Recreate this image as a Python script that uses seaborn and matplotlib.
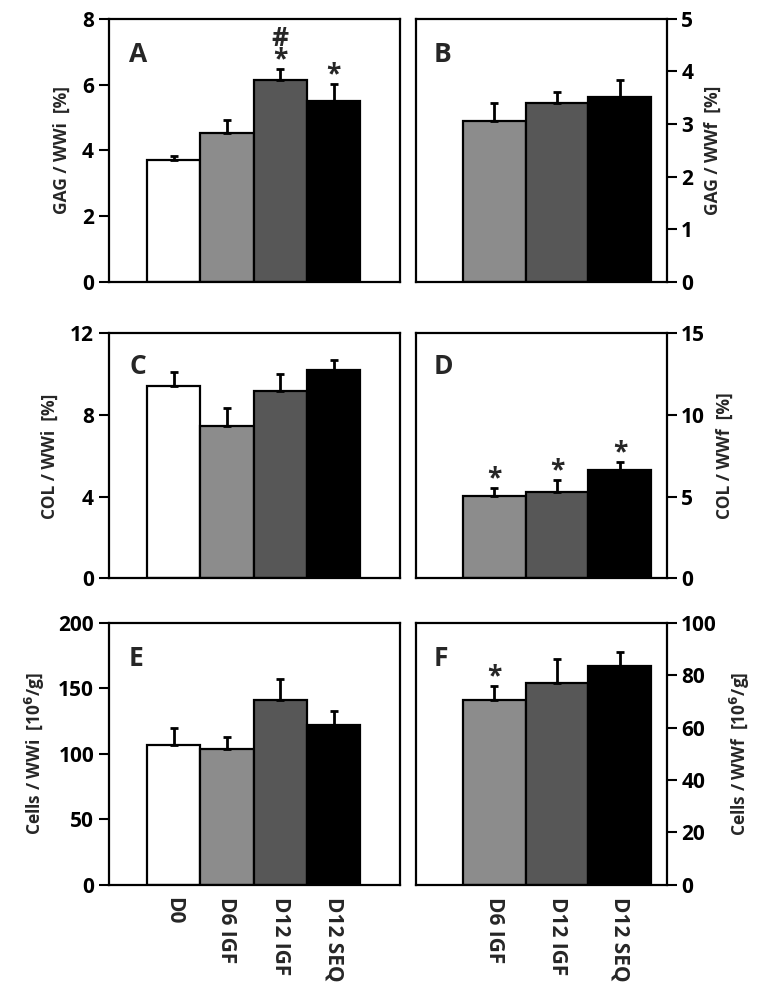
import numpy as np
import pandas as pd
import matplotlib
matplotlib.use("Agg")
import matplotlib.pyplot as plt
import seaborn as sns

# Dados
groups = ["D0", "D6 IGF", "D12 IGF", "D12 SEQ"]
groups_f = ["D6 IGF", "D12 IGF", "D12 SEQ"]
colors = ["#ffffff", "#8c8c8c", "#575757", "#000000"]
colors_f = colors[1:]

gag_wwi = [3.69, 4.52, 6.14, 5.51]
gag_wwi_err = [0.15, 0.40, 0.34, 0.51]
gag_wwf = [3.05, 3.40, 3.51]
gag_wwf_err = [0.34, 0.21, 0.32]

col_wwi = [9.41, 7.46, 9.17, 10.18]
col_wwi_err = [0.68, 0.90, 0.86, 0.52]
col_wwf = [5.04, 5.26, 6.61]
col_wwf_err = [0.51, 0.78, 0.50]

cells_wwi = [107, 104, 141, 122]
cells_wwi_err = [13, 9, 16, 11]
cells_wwf = [70.4, 77.2, 83.6]
cells_wwf_err = [5.4, 8.9, 5.2]

sns.set_theme(style="white")
plt.rcParams["font.family"] = ["Open Sans", "DejaVu Sans"]
plt.rcParams["font.weight"] = "bold"

fig = plt.figure(figsize=(7.76, 9.92), dpi=100)

left_x, left_w = 0.140, 0.375
right_x, right_w = 0.536, 0.323
rows = [(0.716, 0.265), (0.417, 0.247), (0.108, 0.264)]


def painel(pos, cats, vals, errs, cols, ylim, yticks, ylabel, letra, lado,
           marcas=None, rotulos=False):
    ax = fig.add_axes(pos)
    n = len(cats)
    df = pd.DataFrame({"grupo": cats, "valor": vals})
    sns.barplot(data=df, x="grupo", y="valor", hue="grupo", order=cats,
                hue_order=cats, palette=cols, width=1.0, edgecolor="black",
                linewidth=1.6, legend=False, ax=ax)
    ax.errorbar(np.arange(n), vals, yerr=[np.zeros(n), errs], fmt="none",
                ecolor="black", elinewidth=2, capsize=3, capthick=2, zorder=5)

    if n == 4:
        ax.set_xlim(-1.22, 4.24)
    else:
        ax.set_xlim(-1.24, 2.74)
    ax.set_ylim(*ylim)
    ax.set_yticks(yticks)
    ax.set_yticklabels([str(t) for t in yticks], fontsize=15, fontweight="bold")

    for s in ax.spines.values():
        s.set_linewidth(1.6)
        s.set_color("black")
        s.set_visible(True)

    ax.tick_params(axis="y", direction="out", length=7, width=1.5,
                   colors="black", left=(lado == "left"), right=(lado == "right"),
                   labelleft=(lado == "left"), labelright=(lado == "right"))
    ax.tick_params(axis="x", length=0, pad=9)
    if lado == "right":
        ax.yaxis.set_label_position("right")
    ax.set_ylabel(ylabel, fontsize=12.5, fontweight="bold", labelpad=8)
    ax.set_xlabel("")

    if rotulos:
        ax.set_xticks(np.arange(n))
        ax.set_xticklabels(cats, rotation=-90, va="top", ha="center",
                           fontsize=15, fontweight="bold")
    else:
        ax.set_xticks([])

    ax.text(0.07, 0.865, letra, transform=ax.transAxes, fontsize=19,
            fontweight="bold", va="center", ha="left")

    # asteriscos e cerquilha de significância (um só texto por barra)
    if marcas:
        for i, txt in marcas.items():
            topo = vals[i] + errs[i]
            rotulo = "#\n*" if txt == "#*" else "*"
            ax.annotate(rotulo, xy=(i, topo), xytext=(0, -3), textcoords="offset points",
                        ha="center", va="bottom", multialignment="center",
                        linespacing=0.7, fontsize=19, fontweight="bold")
    return ax


painel([left_x, rows[0][0], left_w, rows[0][1]], groups, gag_wwi, gag_wwi_err, colors,
       (0, 8), [0, 2, 4, 6, 8], "GAG / WWi  [%]", "A", "left", {2: "#*", 3: "*"})
painel([right_x, rows[0][0], right_w, rows[0][1]], groups_f, gag_wwf, gag_wwf_err, colors_f,
       (0, 5), [0, 1, 2, 3, 4, 5], "GAG / WWf  [%]", "B", "right")
painel([left_x, rows[1][0], left_w, rows[1][1]], groups, col_wwi, col_wwi_err, colors,
       (0, 12), [0, 4, 8, 12], "COL / WWi  [%]", "C", "left")
painel([right_x, rows[1][0], right_w, rows[1][1]], groups_f, col_wwf, col_wwf_err, colors_f,
       (0, 15), [0, 5, 10, 15], "COL / WWf  [%]", "D", "right", {0: "*", 1: "*", 2: "*"})
painel([left_x, rows[2][0], left_w, rows[2][1]], groups, cells_wwi, cells_wwi_err, colors,
       (0, 200), [0, 50, 100, 150, 200], "Cells / WWi  [10$^{6}$/g]", "E", "left", rotulos=True)
painel([right_x, rows[2][0], right_w, rows[2][1]], groups_f, cells_wwf, cells_wwf_err, colors_f,
       (0, 100), [0, 20, 40, 60, 80, 100], "Cells / WWf  [10$^{6}$/g]", "F", "right",
       {0: "*"}, rotulos=True)

plt.savefig("out.png", dpi=100, facecolor="white")
plt.close()
